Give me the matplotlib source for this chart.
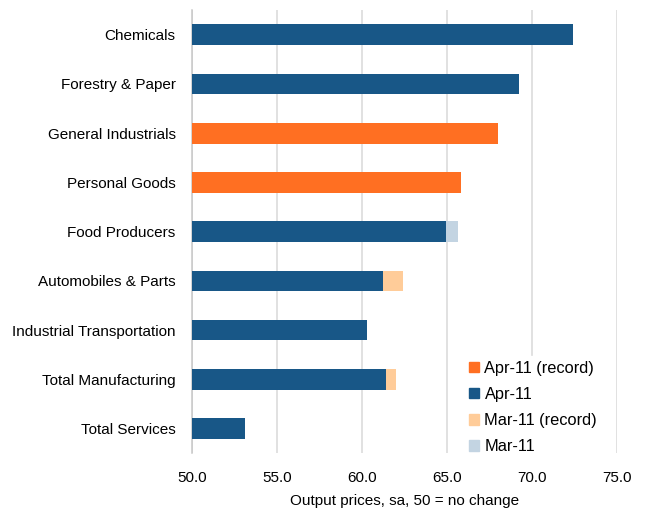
import numpy as np
import matplotlib.pyplot as plt
from matplotlib.patches import Patch

plt.rcParams['font.family'] = ['Liberation Sans', 'DejaVu Sans']

# data ---------------------------------------------------------------------
categories = ['Chemicals', 'Forestry & Paper', 'General Industrials',
              'Personal Goods', 'Food Producers', 'Automobiles & Parts',
              'Industrial Transportation', 'Total Manufacturing',
              'Total Services']
apr = [72.4, 69.2, 68.0, 65.8, 64.9, 61.2, 60.3, 61.4, 53.1]
apr_record = [False, False, True, True, False, False, False, False, False]
mar = [np.nan, np.nan, np.nan, np.nan, 65.6, 62.4, np.nan, 62.0, np.nan]
mar_record = [False, False, False, False, False, True, False, True, False]
xticks = [50, 55, 60, 65, 70, 75]
base = 50.0

c_apr_rec = '#FF6F22'
c_apr = '#185787'
c_mar_rec = '#FFCC99'
c_mar = '#C3D4E2'

fig = plt.figure(figsize=(6.48, 5.08), dpi=100)
ax = fig.add_axes([0.2968, 0.108, 0.9526 - 0.2968, 0.980 - 0.108])

y = np.arange(len(categories))
h = 0.42

# March first so April sits on top
mar_w = np.array(mar) - base
mar_c = [c_mar_rec if r else c_mar for r in mar_record]
ax.barh(y, mar_w, left=base, height=h, color=mar_c, zorder=2)
apr_w = np.array(apr) - base
apr_c = [c_apr_rec if r else c_apr for r in apr_record]
ax.barh(y, apr_w, left=base, height=h, color=apr_c, zorder=3)

ax.set_xlim(50, 75)
ax.set_ylim(len(categories) - 0.5, -0.5)
ax.set_xticks(xticks)
ax.set_xticklabels(['%.1f' % t for t in xticks])
ax.set_yticks(y)
ax.set_yticklabels(categories)
ax.tick_params(axis='both', length=0, labelsize=11, colors='black')
ax.tick_params(axis='y', pad=12)
ax.tick_params(axis='x', pad=13)
ax.xaxis.grid(True, color='#D9D9D9', lw=1.1, zorder=0)
ax.set_axisbelow(True)
for s in ['top', 'right', 'bottom']:
    ax.spines[s].set_visible(False)
ax.spines['left'].set_color('#C8C8C8')
ax.spines['left'].set_linewidth(1.1)
ax.set_xlabel('Output prices, sa, 50 = no change', fontsize=11, labelpad=6)

handles = [Patch(color=c_apr_rec, label='Apr-11 (record)'),
           Patch(color=c_apr, label='Apr-11'),
           Patch(color=c_mar_rec, label='Mar-11 (record)'),
           Patch(color=c_mar, label='Mar-11')]
leg = ax.legend(handles=handles, loc='upper left',
                bbox_to_anchor=(464 / 648, 1 - 356 / 508),
                bbox_transform=fig.transFigure, frameon=True,
                fontsize=11.8, handlelength=0.6, handleheight=0.6,
                handletextpad=0.35, labelspacing=0.68, borderpad=0.3,
                borderaxespad=0, fancybox=False)
leg.get_frame().set_edgecolor('white')
leg.get_frame().set_facecolor('white')
leg.get_frame().set_alpha(1)

fig.savefig('out.png', dpi=100)
